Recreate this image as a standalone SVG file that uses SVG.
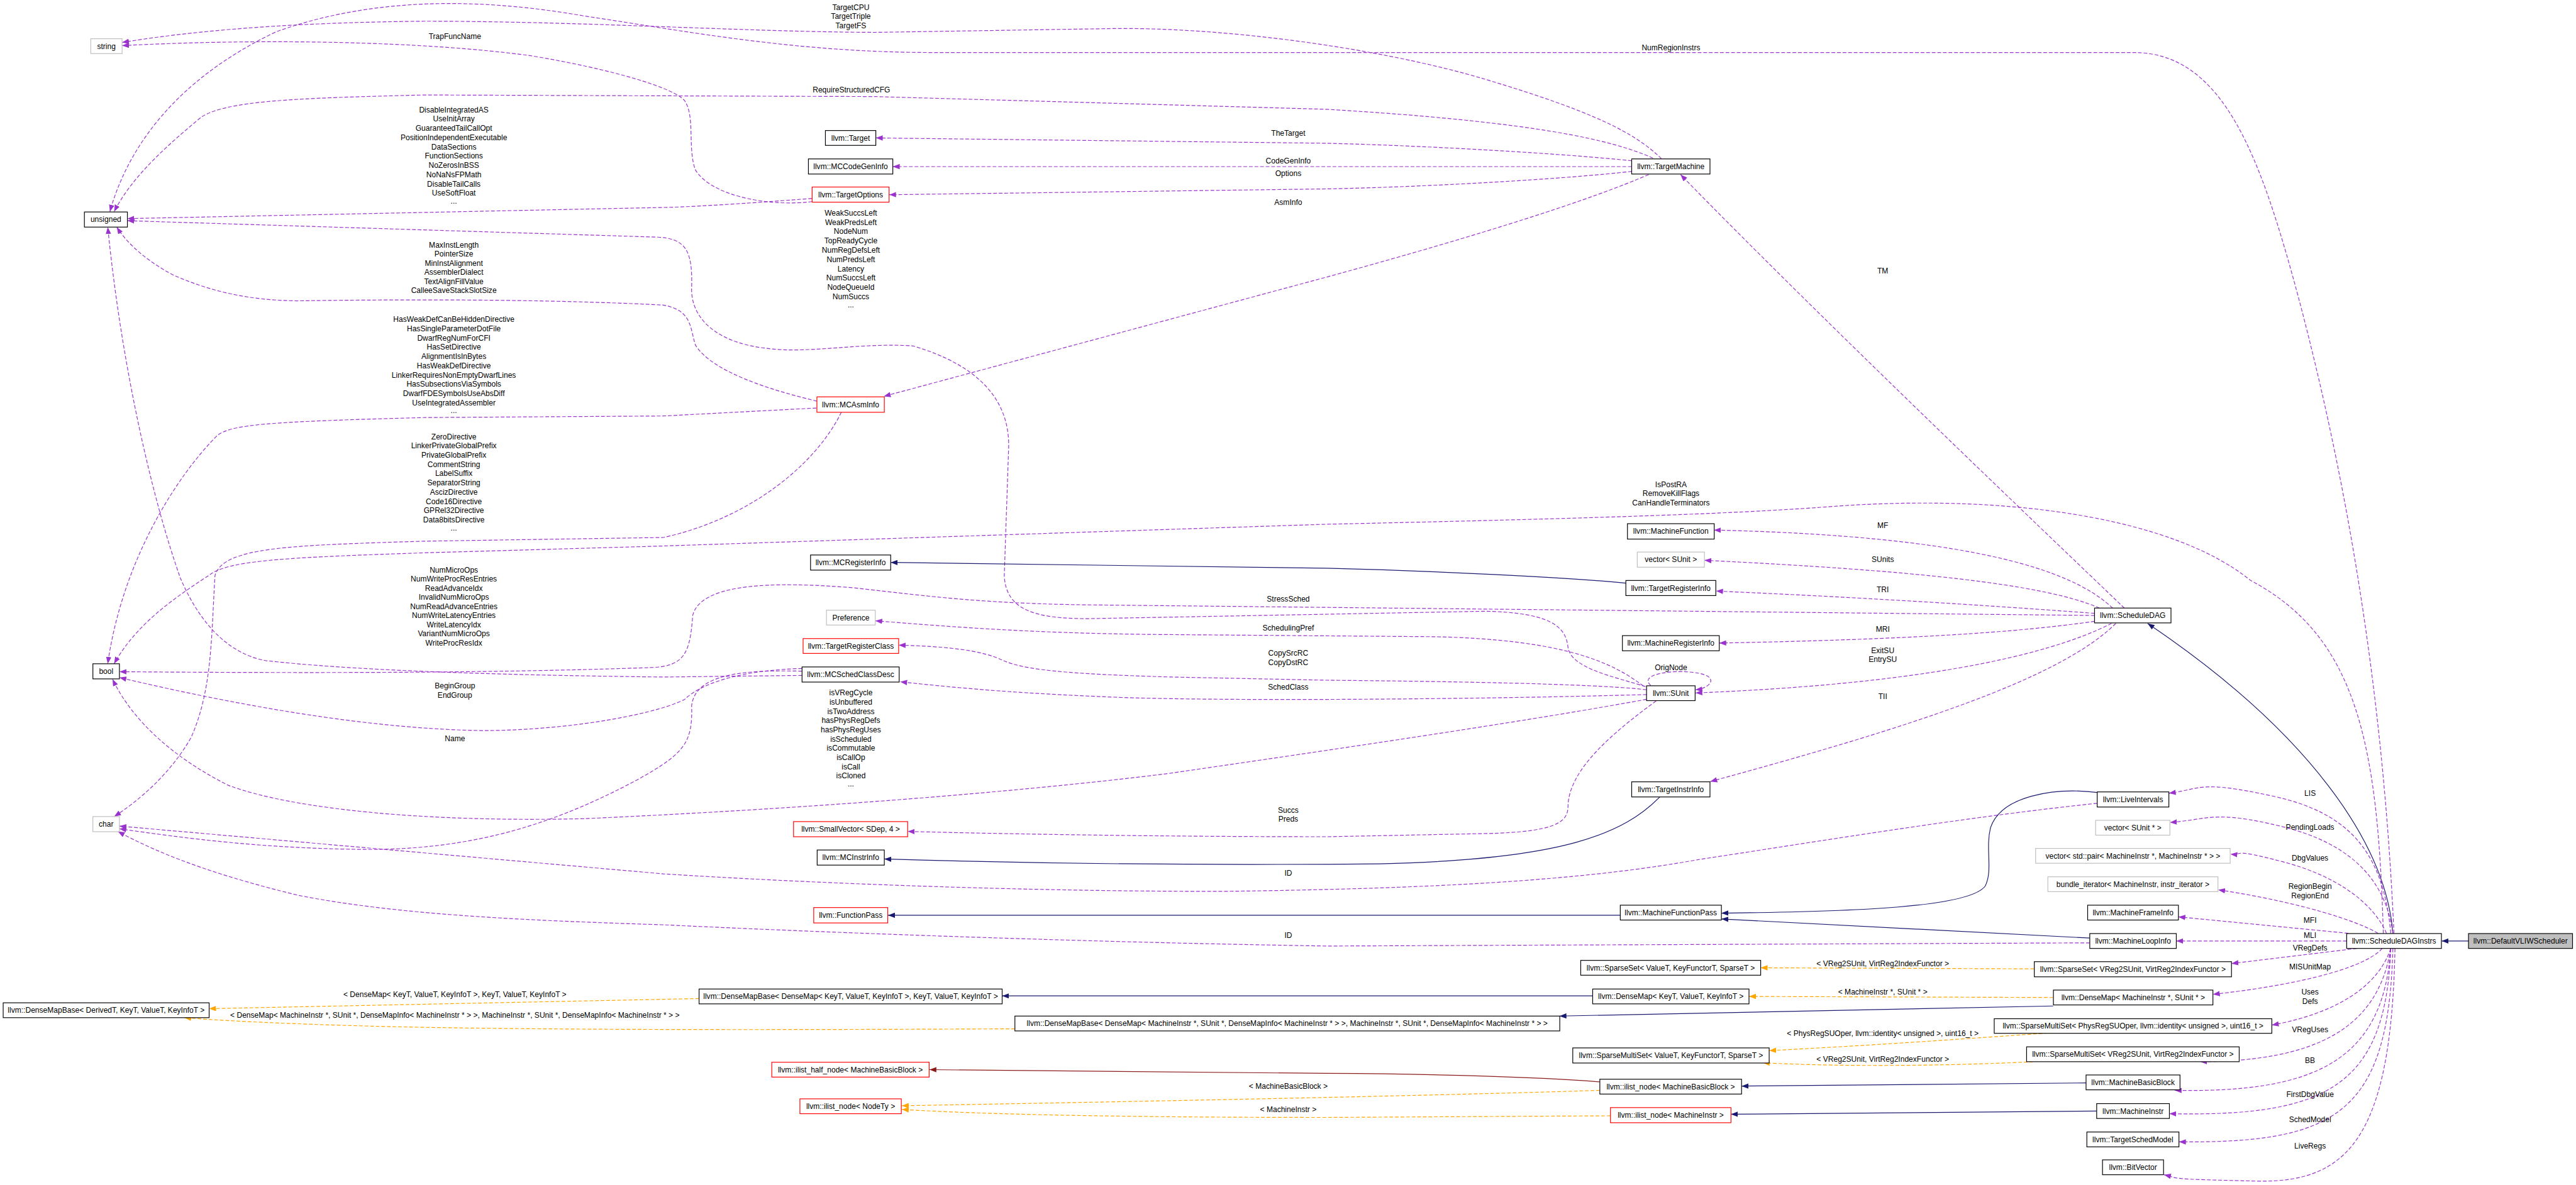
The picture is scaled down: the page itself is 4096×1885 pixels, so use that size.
<svg xmlns="http://www.w3.org/2000/svg" width="4096" height="1885" viewBox="0 0 4096 1885">
<defs>
<style>
text{font-family:"Liberation Sans",Arial,Helvetica,sans-serif;font-size:14.3px;fill:#000;text-anchor:middle}
.node rect{fill:#fff;stroke:#000;stroke-width:1.4}
.node.u rect{stroke:#bfbfbf}
.node.r rect{stroke:#ff0000}
.node.c rect{fill:#bfbfbf;stroke:#000}
.e{fill:none;stroke-width:1.4}
.m{stroke:#9a32cd;stroke-dasharray:7,3.5;marker-end:url(#ap)}
.o{stroke:#ffa500;stroke-dasharray:7,3.5;marker-end:url(#ao)}
.i{stroke:#191970;marker-end:url(#ab)}
.p{stroke:#8b1a1a;marker-end:url(#ar)}
</style>
<marker id="ap" markerUnits="userSpaceOnUse" viewBox="0 0 13 10" markerWidth="13" markerHeight="10" refX="13" refY="5" orient="auto"><path d="M0,0 L13,5 L0,10 z" fill="#9a32cd"/></marker>
<marker id="ab" markerUnits="userSpaceOnUse" viewBox="0 0 13 10" markerWidth="13" markerHeight="10" refX="13" refY="5" orient="auto"><path d="M0,0 L13,5 L0,10 z" fill="#191970"/></marker>
<marker id="ao" markerUnits="userSpaceOnUse" viewBox="0 0 13 10" markerWidth="13" markerHeight="10" refX="13" refY="5" orient="auto"><path d="M0,0 L13,5 L0,10 z" fill="#ffa500"/></marker>
<marker id="ar" markerUnits="userSpaceOnUse" viewBox="0 0 13 10" markerWidth="13" markerHeight="10" refX="13" refY="5" orient="auto"><path d="M0,0 L13,5 L0,10 z" fill="#8b1a1a"/></marker>
</defs>
<rect x="0" y="0" width="4096" height="1885" fill="#fff"/>
<g transform="scale(0.84401)">
<g id="edges">
<path class="e i" d="M4650.5,1773.5 L4600,1773.5"/>
<path class="e i" d="M4508,1759 C4495,1590 4350,1380 4046,1175"/>
<path class="e m" d="M4504,1759 C4490,1600 4420,1530 4280,1500 S4150,1487 4086,1495"/>
<path class="e m" d="M4508,1759 C4495,1660 4430,1590 4300,1558 S4160,1545 4088,1550"/>
<path class="e m" d="M4496,1759 C4470,1700 4400,1650 4300,1624 S4230,1612 4202,1610"/>
<path class="e m" d="M4480,1759 C4440,1735 4330,1700 4179,1677"/>
<path class="e m" d="M4424,1759 L4104,1728"/>
<path class="e m" d="M4421,1773.5 L4100,1773.5"/>
<path class="e m" d="M4440,1787.5 L4204,1816"/>
<path class="e m" d="M4488,1787.5 C4450,1830 4300,1860 4169,1874"/>
<path class="e m" d="M4504,1787.5 C4480,1860 4400,1910 4280,1932"/>
<path class="e m" d="M4504,1787.5 C4480,1940 4360,2000 4145,2001"/>
<path class="e m" d="M4504,1787.5 C4490,2000 4360,2060 4097,2055"/>
<path class="e m" d="M4504,1787.5 C4495,2050 4380,2105 4087,2099"/>
<path class="e m" d="M4508,1787.5 C4500,2100 4400,2155 4105,2152"/>
<path class="e m" d="M4512,1787.5 C4505,2150 4420,2230 4250,2226 S4110,2222 4077,2214"/>
<path class="e m" d="M4510,1759 C4490,1300 4420,900 4330,560 C4260,300 4190,99 4020,99 L1760,99 C1500,99 1300,60 1100,30 C900,-5 700,-5 520,60 C330,150 240,280 207,399"/>
<path class="e m" d="M4490,1759 C4480,1400 4440,1200 4240,1094 C4100,980 3800,930 3460,954 C3300,966 3100,975 2500,988 L1250,1029 L797,1042 C560,1050 440,1055 400,1080 C340,1120 260,1170 215,1251"/>
<path class="e m" d="M1538,769 L1250,784 L797,787 C500,795 440,800 410,820 C330,900 230,1060 203,1251"/>
<path class="e m" d="M4002,1146 C3850,1000 3450,620 3166,329"/>
<path class="e m" d="M3980,1146 C3900,1070 3700,1010 3229,999"/>
<path class="e m" d="M3955,1146 C3850,1100 3600,1075 3211,1056"/>
<path class="e m" d="M3946,1156 Q3600,1130 3233,1114"/>
<path class="e m" d="M3946,1160 L2047,1140 C1850,1137 1760,1125 1610,1108 C1450,1095 1320,1100 1305,1160 C1300,1230 1290,1255 1230,1258 C900,1270 500,1268 225,1266"/>
<path class="e m" d="M3946,1171 C3800,1192 3600,1205 3239,1212"/>
<path class="e m" d="M3978,1175 C3850,1240 3600,1290 3194,1306"/>
<path class="e m" d="M3986,1175 C3880,1280 3600,1370 3222,1473"/>
<path class="e m" d="M3096,1293 C3040,1250 2950,1205 2700,1200 L2200,1196 C1950,1194 1800,1182 1649,1170"/>
<path class="e m" d="M3100,1294 C3040,1275 2960,1260 2954,1220 C2950,1180 2920,1155 2800,1152 L2050,1166 C1950,1166 1895,1150 1892,1085 L1900,850 C1905,760 1850,690 1720,652 C1620,645 1520,668 1440,656 C1350,645 1300,600 1303,540 C1305,470 1290,450 1240,447 L240,416"/>
<path class="e m" d="M3102,1300 C3000,1288 2700,1284 2500,1282 L2207,1276 C2000,1270 1930,1262 1890,1245 C1850,1225 1780,1218 1693,1216"/>
<path class="e m" d="M3102,1309 C2800,1318 2300,1322 2100,1314 C1900,1306 1800,1296 1696,1285"/>
<path class="e m" d="M3102,1318 C2900,1355 2600,1400 2200,1458 C1900,1495 1500,1525 1100,1543 C800,1550 550,1525 430,1480 C330,1430 250,1360 212,1280"/>
<path class="e m" d="M3120,1321 C3040,1380 2955,1450 2954,1520 C2954,1550 2930,1568 2800,1571 L2500,1577 C2200,1577 1900,1572 1710,1567"/>
<path class="e m" d="M3110,1292 C3080,1265 3190,1258 3218,1275 C3232,1285 3215,1298 3194,1300"/>
<path class="e m" d="M3074,303 C2950,290 2700,275 2500,270 L1650,260"/>
<path class="e m" d="M3074,314 L1682,314"/>
<path class="e m" d="M3074,323 C2950,337 2700,352 2500,356 L1675,367"/>
<path class="e m" d="M3106,329 C3000,375 2800,440 2500,522 L1665,747"/>
<path class="e m" d="M3130,299 C3080,250 3000,210 2800,150 C2600,90 2300,50 2087,54 L1649,61 C1400,60 1100,40 800,40 C600,42 400,52 230,80"/>
<path class="e m" d="M3114,298 C3040,265 2900,230 2500,206 L1649,182 L800,179 C550,185 430,190 380,220 C320,270 250,330 215,399"/>
<path class="e m" d="M1530,380 C1450,390 1340,370 1310,320 C1295,280 1310,220 1290,190 C1270,165 1150,130 1000,105 C800,78 500,72 230,86"/>
<path class="e m" d="M1530,374 C1400,384 1300,390 1250,391 L240,412"/>
<path class="e m" d="M1539,756 C1450,735 1340,700 1310,650 C1300,620 1305,585 1250,575 C1000,562 700,565 560,567 C470,566 400,550 330,520 C280,495 240,460 220,428"/>
<path class="e m" d="M1585,777 C1540,870 1420,975 1250,1013 L797,1020 C550,1028 420,1030 405,1085 C398,1200 400,1300 360,1390 C320,1460 260,1510 215,1539"/>
<path class="e m" d="M1511,1273 L1250,1276 C900,1272 650,1262 500,1245 C420,1230 370,1160 340,1090 C290,950 230,700 203,428"/>
<path class="e m" d="M1511,1260 C1420,1262 1330,1280 1290,1318 C1250,1340 1100,1375 917,1377 C700,1375 450,1330 225,1277"/>
<path class="e m" d="M1511,1265 C1400,1262 1310,1270 1303,1330 C1305,1400 1290,1420 1200,1470 C1050,1550 900,1600 700,1601 C500,1600 350,1580 225,1562"/>
<path class="e m" d="M3951,1514 C3700,1540 3400,1590 3200,1620 C2980,1660 2700,1675 2300,1680 C1900,1680 1500,1663 1250,1647 L225,1557"/>
<path class="e m" d="M3937,1777 L2500,1783 C2000,1775 1500,1755 1250,1743 C1000,1735 750,1725 560,1687 C430,1655 320,1620 222,1567"/>
<path class="e i" d="M3954,1494 C3870,1483 3770,1500 3750,1560 C3740,1600 3755,1640 3740,1670 C3710,1710 3500,1718 3243,1721"/>
<path class="e i" d="M3937,1768 L3243,1732"/>
<path class="e i" d="M3052,1725 L1673,1725"/>
<path class="e i" d="M3063,1099 C2950,1088 2700,1076 2500,1071 L1678,1060"/>
<path class="e i" d="M3127,1502 C3060,1570 2950,1620 2600,1628 C2200,1632 1900,1626 1666,1619"/>
<path class="e i" d="M3000,1877 L1888,1877"/>
<path class="e o" d="M1317,1882 L394,1901"/>
<path class="e o" d="M1912,1939 C1500,1941 1000,1942 700,1934 C550,1930 420,1924 347,1918"/>
<path class="e i" d="M3868,1896 L2938,1915"/>
<path class="e o" d="M3868,1880 L3295,1878"/>
<path class="e o" d="M3832,1826 L3317,1824"/>
<path class="e o" d="M3858,1947 C3700,1958 3500,1972 3333,1980"/>
<path class="e o" d="M3830,2001 C3650,2010 3450,2010 3321,2003"/>
<path class="e i" d="M3930,2041 L3281,2047"/>
<path class="e i" d="M3950,2094 L3261,2100"/>
<path class="e p" d="M3014,2039 C2900,2030 2700,2024 2500,2023 L1751,2016"/>
<path class="e o" d="M3014,2055 C2700,2065 2200,2075 1699,2084"/>
<path class="e o" d="M3034,2103 L2500,2106 C2100,2106 1850,2100 1699,2091"/>
</g>
<g id="edge-labels">
<text x="1603"><tspan x="1603" y="18.9">TargetCPU</tspan><tspan x="1603" y="35.6">TargetTriple</tspan><tspan x="1603" y="52.8">TargetFS</tspan></text>
<text x="857" y="72.9">TrapFuncName</text>
<text x="3148" y="94.4">NumRegionInstrs</text>
<text x="1604" y="174">RequireStructuredCFG</text>
<text x="855"><tspan x="855" y="211.6">DisableIntegratedAS</tspan><tspan x="855" y="229">UseInitArray</tspan><tspan x="855" y="246.5">GuaranteedTailCallOpt</tspan><tspan x="855" y="264">PositionIndependentExecutable</tspan><tspan x="855" y="281.4">DataSections</tspan><tspan x="855" y="298.9">FunctionSections</tspan><tspan x="855" y="316.4">NoZerosInBSS</tspan><tspan x="855" y="333.8">NoNaNsFPMath</tspan><tspan x="855" y="351.3">DisableTailCalls</tspan><tspan x="855" y="368.7">UseSoftFloat</tspan><tspan x="855" y="384">...</tspan></text>
<text x="2427" y="255.6">TheTarget</text>
<text x="2427" y="308.2">CodeGenInfo</text>
<text x="2427" y="331.7">Options</text>
<text x="2427" y="386.2">AsmInfo</text>
<text x="1603"><tspan x="1603" y="406.3">WeakSuccsLeft</tspan><tspan x="1603" y="423.8">WeakPredsLeft</tspan><tspan x="1603" y="441.3">NodeNum</tspan><tspan x="1603" y="458.8">TopReadyCycle</tspan><tspan x="1603" y="476.3">NumRegDefsLeft</tspan><tspan x="1603" y="493.8">NumPredsLeft</tspan><tspan x="1603" y="511.3">Latency</tspan><tspan x="1603" y="528.8">NumSuccsLeft</tspan><tspan x="1603" y="546.3">NodeQueueId</tspan><tspan x="1603" y="563.8">NumSuccs</tspan><tspan x="1603" y="579">...</tspan></text>
<text x="855"><tspan x="855" y="466.6">MaxInstLength</tspan><tspan x="855" y="483.8">PointerSize</tspan><tspan x="855" y="501">MinInstAlignment</tspan><tspan x="855" y="518.3">AssemblerDialect</tspan><tspan x="855" y="535.5">TextAlignFillValue</tspan><tspan x="855" y="552.7">CalleeSaveStackSlotSize</tspan></text>
<text x="3547" y="515">TM</text>
<text x="855"><tspan x="855" y="606.7">HasWeakDefCanBeHiddenDirective</tspan><tspan x="855" y="624.2">HasSingleParameterDotFile</tspan><tspan x="855" y="641.6">DwarfRegNumForCFI</tspan><tspan x="855" y="659.1">HasSetDirective</tspan><tspan x="855" y="676.5">AlignmentIsInBytes</tspan><tspan x="855" y="694">HasWeakDefDirective</tspan><tspan x="855" y="711.5">LinkerRequiresNonEmptyDwarfLines</tspan><tspan x="855" y="728.9">HasSubsectionsViaSymbols</tspan><tspan x="855" y="746.4">DwarfFDESymbolsUseAbsDiff</tspan><tspan x="855" y="763.8">UseIntegratedAssembler</tspan><tspan x="855" y="779">...</tspan></text>
<text x="855"><tspan x="855" y="827.7">ZeroDirective</tspan><tspan x="855" y="845.2">LinkerPrivateGlobalPrefix</tspan><tspan x="855" y="862.6">PrivateGlobalPrefix</tspan><tspan x="855" y="880.1">CommentString</tspan><tspan x="855" y="897.5">LabelSuffix</tspan><tspan x="855" y="915">SeparatorString</tspan><tspan x="855" y="932.5">AscizDirective</tspan><tspan x="855" y="949.9">Code16Directive</tspan><tspan x="855" y="967.4">GPRel32Directive</tspan><tspan x="855" y="984.8">Data8bitsDirective</tspan><tspan x="855" y="1000">...</tspan></text>
<text x="3148"><tspan x="3148" y="918.6">IsPostRA</tspan><tspan x="3148" y="935">RemoveKillFlags</tspan><tspan x="3148" y="952.5">CanHandleTerminators</tspan></text>
<text x="3547" y="995.6">MF</text>
<text x="3547" y="1059.7">SUnits</text>
<text x="855"><tspan x="855" y="1078.8">NumMicroOps</tspan><tspan x="855" y="1096">NumWriteProcResEntries</tspan><tspan x="855" y="1113.3">ReadAdvanceIdx</tspan><tspan x="855" y="1130.5">InvalidNumMicroOps</tspan><tspan x="855" y="1147.7">NumReadAdvanceEntries</tspan><tspan x="855" y="1165">NumWriteLatencyEntries</tspan><tspan x="855" y="1182.2">WriteLatencyIdx</tspan><tspan x="855" y="1199.4">VariantNumMicroOps</tspan><tspan x="855" y="1216.6">WriteProcResIdx</tspan></text>
<text x="3547" y="1116.6">TRI</text>
<text x="2427" y="1134">StressSched</text>
<text x="2427" y="1188">SchedulingPref</text>
<text x="3547" y="1191">MRI</text>
<text x="2427"><tspan x="2427" y="1235.7">CopySrcRC</tspan><tspan x="2427" y="1253">CopyDstRC</tspan></text>
<text x="3547"><tspan x="3547" y="1231">ExitSU</tspan><tspan x="3547" y="1247.6">EntrySU</tspan></text>
<text x="3148" y="1263.4">OrigNode</text>
<text x="2427" y="1300">SchedClass</text>
<text x="3547" y="1317">TII</text>
<text x="857"><tspan x="857" y="1297">BeginGroup</tspan><tspan x="857" y="1314.6">EndGroup</tspan></text>
<text x="857" y="1397">Name</text>
<text x="1603"><tspan x="1603" y="1310.8">isVRegCycle</tspan><tspan x="1603" y="1328.2">isUnbuffered</tspan><tspan x="1603" y="1345.5">isTwoAddress</tspan><tspan x="1603" y="1362.9">hasPhysRegDefs</tspan><tspan x="1603" y="1380.2">hasPhysRegUses</tspan><tspan x="1603" y="1397.6">isScheduled</tspan><tspan x="1603" y="1415">isCommutable</tspan><tspan x="1603" y="1432.3">isCallOp</tspan><tspan x="1603" y="1449.7">isCall</tspan><tspan x="1603" y="1467">isCloned</tspan><tspan x="1603" y="1482">...</tspan></text>
<text x="4352" y="1499.7">LIS</text>
<text x="2427"><tspan x="2427" y="1531.6">Succs</tspan><tspan x="2427" y="1548.5">Preds</tspan></text>
<text x="4352" y="1564">PendingLoads</text>
<text x="4352" y="1622.3">DbgValues</text>
<text x="2427" y="1651">ID</text>
<text x="4352"><tspan x="4352" y="1675.6">RegionBegin</tspan><tspan x="4352" y="1693">RegionEnd</tspan></text>
<text x="4352" y="1739.2">MFI</text>
<text x="4352" y="1768">MLI</text>
<text x="2427" y="1768">ID</text>
<text x="4352" y="1791">VRegDefs</text>
<text x="3547" y="1820.5">&lt; VReg2SUnit, VirtReg2IndexFunctor &gt;</text>
<text x="4352" y="1826.6">MISUnitMap</text>
<text x="3547" y="1874">&lt; MachineInstr *, SUnit * &gt;</text>
<text x="4352"><tspan x="4352" y="1874.8">Uses</tspan><tspan x="4352" y="1891.6">Defs</tspan></text>
<text x="857" y="1879">&lt; DenseMap&lt; KeyT, ValueT, KeyInfoT &gt;, KeyT, ValueT, KeyInfoT &gt;</text>
<text x="857" y="1918">&lt; DenseMap&lt; MachineInstr *, SUnit *, DenseMapInfo&lt; MachineInstr * &gt; &gt;, MachineInstr *, SUnit *, DenseMapInfo&lt; MachineInstr * &gt; &gt;</text>
<text x="4352" y="1945">VRegUses</text>
<text x="3547" y="1952.4">&lt; PhysRegSUOper, llvm::identity&lt; unsigned &gt;, uint16_t &gt;</text>
<text x="3547" y="2000.6">&lt; VReg2SUnit, VirtReg2IndexFunctor &gt;</text>
<text x="4352" y="2003.8">BB</text>
<text x="2427" y="2052">&lt; MachineBasicBlock &gt;</text>
<text x="4352" y="2067.4">FirstDbgValue</text>
<text x="2427" y="2095.5">&lt; MachineInstr &gt;</text>
<text x="4352" y="2115">SchedModel</text>
<text x="4352" y="2164.6">LiveRegs</text>
</g>
<g id="n-string" class="node u"><rect x="171" y="73" width="59" height="28"/><text x="200.5" y="92">string</text></g>
<g id="n-unsigned" class="node"><rect x="159" y="399.5" width="81" height="28.5"/><text x="199.5" y="418.7">unsigned</text></g>
<g id="n-bool" class="node"><rect x="175" y="1251" width="50" height="28.5"/><text x="200" y="1270">bool</text></g>
<g id="n-char" class="node u"><rect x="175" y="1539" width="50" height="28.5"/><text x="200" y="1558">char</text></g>
<g id="n-densemapbase-derived" class="node"><rect x="6" y="1890" width="388" height="28"/><text x="200" y="1909">llvm::DenseMapBase&lt; DerivedT, KeyT, ValueT, KeyInfoT &gt;</text></g>
<g id="n-target" class="node"><rect x="1555" y="246" width="95" height="28"/><text x="1602.5" y="265">llvm::Target</text></g>
<g id="n-mccodegeninfo" class="node"><rect x="1523" y="299.5" width="159" height="28.5"/><text x="1602.5" y="318.7">llvm::MCCodeGenInfo</text></g>
<g id="n-targetoptions" class="node r"><rect x="1530" y="352.5" width="145" height="28.5"/><text x="1602.5" y="371.7">llvm::TargetOptions</text></g>
<g id="n-mcasminfo" class="node r"><rect x="1539" y="748" width="127" height="29"/><text x="1602.5" y="767.5">llvm::MCAsmInfo</text></g>
<g id="n-mcregisterinfo" class="node"><rect x="1527" y="1046" width="151" height="28.5"/><text x="1602.5" y="1065">llvm::MCRegisterInfo</text></g>
<g id="n-preference" class="node u"><rect x="1557" y="1150" width="92" height="28"/><text x="1603" y="1169">Preference</text></g>
<g id="n-targetregisterclass" class="node r"><rect x="1513" y="1203.5" width="180" height="28"/><text x="1603" y="1222.5">llvm::TargetRegisterClass</text></g>
<g id="n-mcschedclassdesc" class="node"><rect x="1511" y="1257" width="183" height="28.5"/><text x="1602.5" y="1276">llvm::MCSchedClassDesc</text></g>
<g id="n-smallvector" class="node r"><rect x="1495" y="1548.5" width="215" height="28.5"/><text x="1602.5" y="1567.7">llvm::SmallVector&lt; SDep, 4 &gt;</text></g>
<g id="n-mcinstrinfo" class="node"><rect x="1539.5" y="1602" width="126.5" height="28.5"/><text x="1602.7" y="1621">llvm::MCInstrInfo</text></g>
<g id="n-functionpass" class="node r"><rect x="1533" y="1710.5" width="139.5" height="29"/><text x="1602.7" y="1730">llvm::FunctionPass</text></g>
<g id="n-densemapbase-keyt" class="node"><rect x="1317" y="1864" width="571" height="28"/><text x="1602.5" y="1883">llvm::DenseMapBase&lt; DenseMap&lt; KeyT, ValueT, KeyInfoT &gt;, KeyT, ValueT, KeyInfoT &gt;</text></g>
<g id="n-densemapbase-mi" class="node"><rect x="1912" y="1915" width="1026.5" height="28"/><text x="2425" y="1934">llvm::DenseMapBase&lt; DenseMap&lt; MachineInstr *, SUnit *, DenseMapInfo&lt; MachineInstr * &gt; &gt;, MachineInstr *, SUnit *, DenseMapInfo&lt; MachineInstr * &gt; &gt;</text></g>
<g id="n-ilist-half-node" class="node r"><rect x="1454" y="2002" width="296.5" height="28"/><text x="1602" y="2021">llvm::ilist_half_node&lt; MachineBasicBlock &gt;</text></g>
<g id="n-ilist-node-nodety" class="node r"><rect x="1507" y="2071" width="191" height="28"/><text x="1602.5" y="2090">llvm::ilist_node&lt; NodeTy &gt;</text></g>
<g id="n-targetmachine" class="node"><rect x="3074" y="299.5" width="147.5" height="28.5"/><text x="3147.7" y="318.7">llvm::TargetMachine</text></g>
<g id="n-machinefunction" class="node"><rect x="3066" y="987" width="163.5" height="29"/><text x="3147.7" y="1006.5">llvm::MachineFunction</text></g>
<g id="n-vector-sunit" class="node u"><rect x="3084.5" y="1040.5" width="126.5" height="28.5"/><text x="3147.7" y="1059.7">vector&lt; SUnit &gt;</text></g>
<g id="n-targetregisterinfo" class="node"><rect x="3063" y="1094" width="169.5" height="28.5"/><text x="3147.7" y="1113.2">llvm::TargetRegisterInfo</text></g>
<g id="n-machineregisterinfo" class="node"><rect x="3056.5" y="1198" width="182.5" height="28.5"/><text x="3147.7" y="1217.2">llvm::MachineRegisterInfo</text></g>
<g id="n-sunit" class="node"><rect x="3102" y="1292.5" width="91.5" height="28"/><text x="3147.7" y="1311.5">llvm::SUnit</text></g>
<g id="n-targetinstrinfo" class="node"><rect x="3074" y="1473.5" width="147.5" height="28.5"/><text x="3147.7" y="1492.7">llvm::TargetInstrInfo</text></g>
<g id="n-machinefunctionpass" class="node"><rect x="3052.5" y="1706" width="190.5" height="28"/><text x="3147.7" y="1725">llvm::MachineFunctionPass</text></g>
<g id="n-sparseset-valuet" class="node"><rect x="2978" y="1810" width="339" height="28"/><text x="3147.5" y="1829">llvm::SparseSet&lt; ValueT, KeyFunctorT, SparseT &gt;</text></g>
<g id="n-densemap-keyt" class="node"><rect x="3000.5" y="1864" width="294.5" height="28"/><text x="3147.7" y="1883">llvm::DenseMap&lt; KeyT, ValueT, KeyInfoT &gt;</text></g>
<g id="n-sparsemultiset-valuet" class="node"><rect x="2963" y="1975" width="370" height="28.5"/><text x="3148" y="1994.2">llvm::SparseMultiSet&lt; ValueT, KeyFunctorT, SparseT &gt;</text></g>
<g id="n-ilist-node-mbb" class="node"><rect x="3014" y="2034" width="267" height="28"/><text x="3147.5" y="2053">llvm::ilist_node&lt; MachineBasicBlock &gt;</text></g>
<g id="n-ilist-node-mi" class="node r"><rect x="3034" y="2087.5" width="227" height="28.5"/><text x="3147.5" y="2106.7">llvm::ilist_node&lt; MachineInstr &gt;</text></g>
<g id="n-scheduledag" class="node"><rect x="3946" y="1146" width="144" height="28"/><text x="4018" y="1165">llvm::ScheduleDAG</text></g>
<g id="n-liveintervals" class="node"><rect x="3951" y="1492.5" width="135" height="28.5"/><text x="4018.5" y="1511.7">llvm::LiveIntervals</text></g>
<g id="n-vector-sunitptr" class="node u"><rect x="3948" y="1546" width="140" height="28"/><text x="4018" y="1565">vector&lt; SUnit * &gt;</text></g>
<g id="n-vector-pair" class="node u"><rect x="3835" y="1599" width="366.5" height="28"/><text x="4018.2" y="1618">vector&lt; std::pair&lt; MachineInstr *, MachineInstr * &gt; &gt;</text></g>
<g id="n-bundle-iterator" class="node u"><rect x="3858" y="1652.5" width="320.5" height="28"/><text x="4018.2" y="1671.5">bundle_iterator&lt; MachineInstr, instr_iterator &gt;</text></g>
<g id="n-machineframeinfo" class="node"><rect x="3933" y="1706" width="171" height="28"/><text x="4018.5" y="1725">llvm::MachineFrameInfo</text></g>
<g id="n-machineloopinfo" class="node"><rect x="3937" y="1759.5" width="163" height="28"/><text x="4018.5" y="1778.5">llvm::MachineLoopInfo</text></g>
<g id="n-sparseset-vreg" class="node"><rect x="3832.5" y="1812.5" width="371.5" height="28.5"/><text x="4018.2" y="1831.7">llvm::SparseSet&lt; VReg2SUnit, VirtReg2IndexFunctor &gt;</text></g>
<g id="n-densemap-mi" class="node"><rect x="3868.5" y="1866" width="300.5" height="28"/><text x="4018.7" y="1885">llvm::DenseMap&lt; MachineInstr *, SUnit * &gt;</text></g>
<g id="n-sparsemultiset-phys" class="node"><rect x="3757" y="1920" width="523" height="27.5"/><text x="4018.5" y="1938.7">llvm::SparseMultiSet&lt; PhysRegSUOper, llvm::identity&lt; unsigned &gt;, uint16_t &gt;</text></g>
<g id="n-sparsemultiset-vreg" class="node"><rect x="3818" y="1973" width="400.5" height="28"/><text x="4018.2" y="1992">llvm::SparseMultiSet&lt; VReg2SUnit, VirtReg2IndexFunctor &gt;</text></g>
<g id="n-machinebasicblock" class="node"><rect x="3930" y="2026" width="177" height="28"/><text x="4018.5" y="2045">llvm::MachineBasicBlock</text></g>
<g id="n-machineinstr" class="node"><rect x="3950" y="2080" width="137" height="28"/><text x="4018.5" y="2099">llvm::MachineInstr</text></g>
<g id="n-targetschedmodel" class="node"><rect x="3931.5" y="2133.5" width="173.5" height="28"/><text x="4018.2" y="2152.5">llvm::TargetSchedModel</text></g>
<g id="n-bitvector" class="node"><rect x="3961" y="2186" width="115" height="28"/><text x="4018.5" y="2205">llvm::BitVector</text></g>
<g id="n-scheduledaginstrs" class="node"><rect x="4421" y="1759.5" width="178.5" height="28"/><text x="4510.2" y="1778.5">llvm::ScheduleDAGInstrs</text></g>
<g id="n-defaultvliwscheduler" class="node c"><rect x="4650.5" y="1759.5" width="196" height="28"/><text x="4748.5" y="1778.5">llvm::DefaultVLIWScheduler</text></g>
</g>
</svg>
